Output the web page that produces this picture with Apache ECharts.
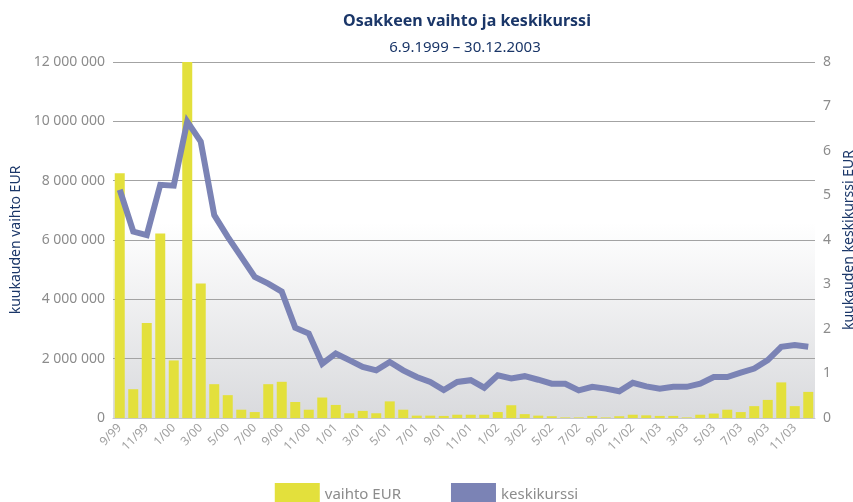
<!DOCTYPE html>
<html>
<head>
<meta charset="utf-8">
<title>Osakkeen vaihto ja keskikurssi</title>
<script src="https://cdn.jsdelivr.net/npm/echarts@6/dist/echarts.min.js"></script>
<style>
  html, body { margin: 0; padding: 0; background: #fff; }
  #chart { width: 853px; height: 502px; }
</style>
</head>
<body>
<div id="chart"></div>
<script>
// kuukaudet 9/1999 - 12/2003
const months = [
  '9/99', '10/99', '11/99', '12/99',
  '1/00', '2/00', '3/00', '4/00', '5/00', '6/00', '7/00', '8/00', '9/00', '10/00', '11/00', '12/00',
  '1/01', '2/01', '3/01', '4/01', '5/01', '6/01', '7/01', '8/01', '9/01', '10/01', '11/01', '12/01',
  '1/02', '2/02', '3/02', '4/02', '5/02', '6/02', '7/02', '8/02', '9/02', '10/02', '11/02', '12/02',
  '1/03', '2/03', '3/03', '4/03', '5/03', '6/03', '7/03', '8/03', '9/03', '10/03', '11/03', '12/03'
]

// vaihto EUR (kuukausi)
const turnover = [
  8250000, 970000, 3200000, 6220000,
  1940000, 12000000, 4530000, 1140000, 770000, 280000, 200000, 1140000, 1220000, 540000, 280000, 690000,
  440000, 160000, 240000, 160000, 560000, 280000, 80000, 80000, 70000, 110000, 110000, 110000,
  200000, 430000, 130000, 80000, 60000, 20000, 20000, 70000, 20000, 60000, 110000, 90000,
  70000, 70000, 20000, 110000, 150000, 280000, 200000, 400000, 610000, 1200000, 400000, 880000
]

// keskikurssi EUR
const avgPrice = [
  5.13, 4.19, 4.11, 5.24,
  5.22, 6.66, 6.21, 4.56, 4.07, 3.62, 3.17, 3.02, 2.84, 2.03, 1.90, 1.22,
  1.45, 1.30, 1.15, 1.07, 1.26, 1.07, 0.92, 0.81, 0.63, 0.81, 0.85, 0.68,
  0.96, 0.89, 0.94, 0.86, 0.77, 0.77, 0.62, 0.70, 0.66, 0.60, 0.79, 0.71,
  0.66, 0.70, 0.70, 0.77, 0.92, 0.92, 1.02, 1.11, 1.30, 1.60, 1.64, 1.60
]

const navy = '#1a3668'
const grey = '#8c8c8c'
const barColor = '#e3e03c'
const lineColor = '#7b83b5'
const font = 'Noto Sans'

function spaced(v) {
  return String(v).replace(/\B(?=(\d{3})+(?!\d))/g, ' ')
}

const myChart = echarts.init(document.getElementById('chart'), null, { renderer: 'canvas' })
const option = {
  backgroundColor: '#fff',
  animation: false,
  textStyle: { fontFamily: font },
  title: [
    {
      text: 'Osakkeen vaihto ja keskikurssi',
      left: 462,
      top: 8,
      textAlign: 'center',
      textStyle: { fontFamily: font, fontSize: 16, fontWeight: 'bold', color: navy }
    },
    {
      text: '6.9.1999 – 30.12.2003',
      left: 460,
      top: 35,
      textAlign: 'center',
      textStyle: { fontFamily: font, fontSize: 15, fontWeight: 'normal', color: navy }
    }
  ],
  legend: {
    left: 'center',
    top: 478,
    itemWidth: 45,
    itemHeight: 24,
    itemGap: 50,
    textStyle: { fontFamily: font, fontSize: 15, color: grey },
    data: [
      { name: 'vaihto EUR', icon: 'rect' },
      { name: 'keskikurssi', icon: 'rect' }
    ]
  },
  grid: {
    left: 113,
    right: 38,
    top: 62,
    bottom: 84,
    outerBoundsMode: 'none',
    containLabel: false,
    show: true,
    borderWidth: 0,
    backgroundColor: new echarts.graphic.LinearGradient(0, 0, 0, 1, [
      { offset: 0, color: '#ffffff' },
      { offset: 0.45, color: '#ffffff' },
      { offset: 1, color: '#d9dadd' }
    ])
  },
  xAxis: {
    type: 'category',
    data: months,
    boundaryGap: true,
    axisLine: { show: true, lineStyle: { color: '#c8c8c8' } },
    axisTick: { show: false },
    axisLabel: {
      interval: 1,
      rotate: 45,
      fontSize: 12,
      color: '#a0a0a0',
      margin: 8
    }
  },
  yAxis: [
    {
      type: 'value',
      min: 0,
      max: 12000000,
      interval: 2000000,
      name: 'kuukauden vaihto EUR',
      nameLocation: 'middle',
      nameGap: 88,
      nameRotate: 90,
      nameTextStyle: { fontFamily: font, fontSize: 14, color: navy },
      axisLine: { show: false },
      axisTick: { show: false },
      axisLabel: { fontSize: 14, color: grey, margin: 8, formatter: spaced },
      splitLine: { lineStyle: { color: '#a3a3a3', width: 1 } }
    },
    {
      type: 'value',
      min: 0,
      max: 8,
      interval: 1,
      name: 'kuukauden keskikurssi EUR',
      nameLocation: 'middle',
      nameGap: 20,
      nameRotate: 90,
      nameTextStyle: { fontFamily: font, fontSize: 14, color: navy },
      axisLine: { show: false },
      axisTick: { show: false },
      axisLabel: { fontSize: 14, color: grey, margin: 8 },
      splitLine: { show: false }
    }
  ],
  series: [
    {
      name: 'vaihto EUR',
      type: 'bar',
      yAxisIndex: 0,
      data: turnover,
      barCategoryGap: '26%',
      itemStyle: { color: barColor }
    },
    {
      name: 'keskikurssi',
      type: 'line',
      yAxisIndex: 1,
      data: avgPrice,
      symbol: 'none',
      lineStyle: { color: lineColor, width: 6, join: 'miter' },
      itemStyle: { color: lineColor },
      z: 3
    }
  ]
}
option && myChart.setOption(option)
</script>
</body>
</html>
